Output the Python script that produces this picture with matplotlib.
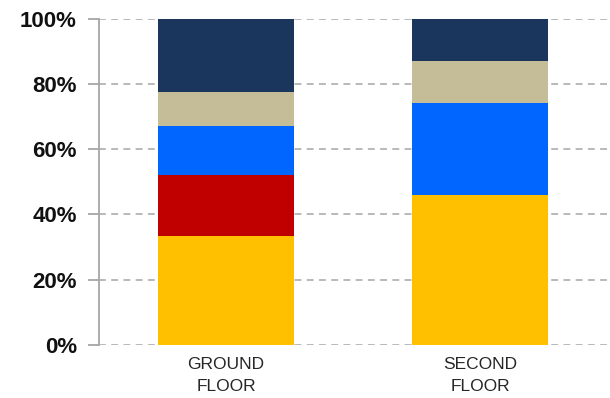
import matplotlib
matplotlib.use("Agg")
import matplotlib.pyplot as plt
from matplotlib.ticker import FuncFormatter

categories = ["GROUND\nFLOOR", "SECOND\nFLOOR"]
segment_colors = ["#FFC000", "#C00000", "#0066FF", "#C4BD97", "#1B365D"]
segments = [
    [33.4, 45.9],  # yellow
    [18.7, 0.0],   # red
    [15.1, 28.3],  # blue
    [10.3, 12.8],  # beige
    [22.5, 13.0],  # navy
]
y_ticks = [0, 20, 40, 60, 80, 100]

plt.rcParams["font.family"] = ["Liberation Sans", "DejaVu Sans"]

fig = plt.figure(figsize=(6.10, 3.98), dpi=100)
ax = fig.add_axes([0.1623, 0.1339, 0.8327, 0.8191])

x = list(range(len(categories)))
bottoms = [0.0] * len(categories)
for vals, col in zip(segments, segment_colors):
    ax.bar(x, vals, bottom=bottoms, width=0.533, color=col, zorder=3, linewidth=0)
    bottoms = [b + v for b, v in zip(bottoms, vals)]

ax.set_xlim(-0.5, 1.5)
ax.set_ylim(0, 100)
ax.set_yticks(y_ticks)
ax.yaxis.set_major_formatter(FuncFormatter(lambda v, _: f"{int(v)}%"))
ax.set_xticks(x)
ax.set_xticklabels(categories, fontsize=12.5, color="#262626", linespacing=1.6)

ax.yaxis.grid(True, linestyle=(0, (4.5, 3.5)), color="#A6A6A6", linewidth=1.1, zorder=0)
ax.set_axisbelow(True)

for s in ["top", "right", "bottom"]:
    ax.spines[s].set_visible(False)
ax.spines["left"].set_color("#A6A6A6")
ax.spines["left"].set_linewidth(1.3)

ax.tick_params(axis="y", length=8, width=1.3, color="#A6A6A6", pad=8,
               labelsize=16)
for lbl in ax.get_yticklabels():
    lbl.set_fontweight("bold")
    lbl.set_color("#111111")
ax.tick_params(axis="x", length=0, pad=8.5)

fig.savefig("out.png", dpi=100)
